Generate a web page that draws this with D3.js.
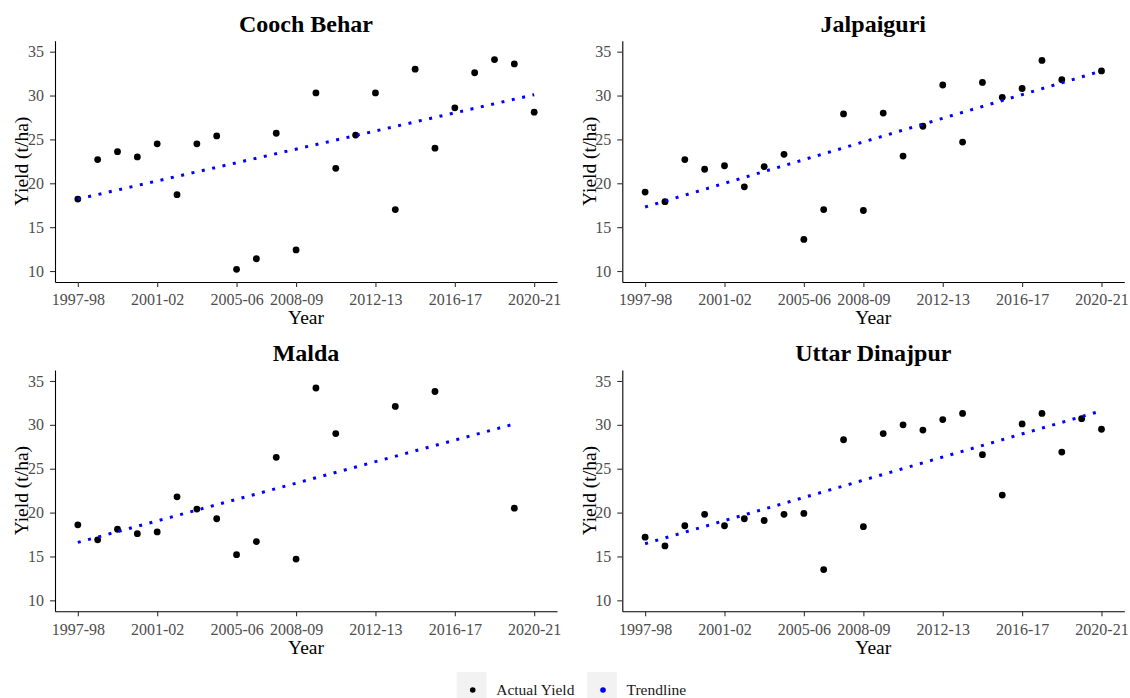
<!DOCTYPE html>
<html>
<head>
<meta charset="utf-8">
<script src="https://cdn.jsdelivr.net/npm/d3@7"></script>
<style>
  body { margin: 0; background: #fff; }
  svg { display: block; }
</style>
</head>
<body>
<svg width="1130" height="698"></svg>
<script>
// seasons on the x axis (index 0..23)
var seasons = ['1997-98','1998-99','1999-00','2000-01','2001-02','2002-03','2003-04','2004-05',
    '2005-06','2006-07','2007-08','2008-09','2009-10','2010-11','2011-12','2012-13',
    '2013-14','2014-15','2015-16','2016-17','2017-18','2018-19','2019-20','2020-21'];
var xTickLabels = ['1997-98','2001-02','2005-06','2008-09','2012-13','2016-17','2020-21'];
var yTicks = [10, 15, 20, 25, 30, 35];

var districts = ['Cooch Behar', 'Jalpaiguri', 'Malda', 'Uttar Dinajpur'];

// yield t/ha, null = no value that season
var coochBehar = [18.2, 22.7, 23.6, 23.0, 24.5, 18.7, 24.5, 25.4, 10.2, 11.4, 25.7, 12.4,
    30.3, 21.7, 25.5, 30.3, 17.0, 33.0, 24.0, 28.6, 32.6, 34.1, 33.6, 28.1];
var jalpaiguri = [19.0, 17.9, 22.7, 21.6, 22.0, 19.6, 21.9, 23.3, 13.6, 17.0, 27.9, 16.9,
    28.0, 23.1, 26.5, 31.2, 24.7, 31.5, 29.8, 30.8, 34.0, 31.8, null, 32.8];
var malda = [18.6, 16.9, 18.1, 17.6, 17.8, 21.8, 20.4, 19.3, 15.2, 16.7, 26.3, 14.7,
    34.2, 29.0, null, null, 32.1, null, 33.8, null, null, null, 20.5, null];
var uttarDinajpur = [17.2, 16.2, 18.5, 19.8, 18.5, 19.3, 19.1, 19.8, 19.9, 13.5, 28.3, 18.4,
    29.0, 30.0, 29.4, 30.6, 31.3, 26.6, 22.0, 30.1, 31.3, 26.9, 30.7, 29.5];

// trendline value at first and last season with data
var trendStart = [18.2, 17.3, 16.6, 16.45];
var trendEnd = [30.1, 32.8, 30.1, 31.6];

var allValues = [coochBehar, jalpaiguri, malda, uttarDinajpur];

var serif = '"Liberation Serif", "Times New Roman", serif';
var panelW = 502, panelH = 241.3;
var offsets = [[55, 40.7], [622.3, 40.7], [55, 370], [622.3, 370]];

var svg = d3.select('svg');

var scaleX = d3.scaleLinear().domain([-1.15, 24.15]).range([0, panelW]);
var scaleY = d3.scaleLinear().domain([8.75, 36.25]).range([panelH, 0]);

districts.forEach(function(name, i) {

    var g = svg.append('g')
        .attr('transform', 'translate(' + offsets[i][0] + ',' + offsets[i][1] + ')');

    var pts = [];
    allValues[i].forEach(function(v, k) {
        if (v !== null) pts.push({idx: k, val: v});
    });

    // axes
    var ax = g.append('g')
        .attr('transform', 'translate(0,' + panelH + ')')
        .call(d3.axisBottom(scaleX)
            .tickValues(xTickLabels.map(function(s){ return seasons.indexOf(s); }))
            .tickFormat(function(d){ return seasons[d]; })
            .tickSize(5).tickSizeOuter(0).tickPadding(7));

    var ay = g.append('g')
        .call(d3.axisLeft(scaleY)
            .tickValues(yTicks)
            .tickSize(5).tickSizeOuter(0).tickPadding(6));

    [ax, ay].forEach(function(a) {
        a.attr('font-family', serif).attr('font-size', 16);
        a.select('.domain').attr('stroke', '#000').attr('stroke-width', 1.1);
        a.selectAll('.tick line').attr('stroke', '#333').attr('stroke-width', 1.1);
        a.selectAll('.tick text').attr('fill', '#4d4d4d');
    });

    // points
    g.selectAll('circle')
        .data(pts)
        .enter()
        .append('circle')
        .attr('cx', function(d){ return scaleX(d.idx); })
        .attr('cy', function(d){ return scaleY(d.val); })
        .attr('r', 3.4)
        .attr('fill', '#000');

    // trendline (drawn over the points)
    var first = pts[0].idx, last = pts[pts.length - 1].idx;
    g.append('line')
        .attr('x1', scaleX(first))
        .attr('y1', scaleY(trendStart[i]))
        .attr('x2', scaleX(last))
        .attr('y2', scaleY(trendEnd[i]))
        .attr('stroke', '#0000ff')
        .attr('stroke-width', 3)
        .attr('stroke-dasharray', '3 7.6');

    // titles
    g.append('text')
        .attr('x', panelW / 2)
        .attr('y', -8.7)
        .attr('text-anchor', 'middle')
        .attr('font-family', serif)
        .attr('font-weight', 'bold')
        .attr('font-size', 24)
        .text(name);

    g.append('text')
        .attr('x', panelW / 2)
        .attr('y', 283.5)
        .attr('text-anchor', 'middle')
        .attr('font-family', serif)
        .attr('font-size', 19.5)
        .attr('fill', '#000')
        .text('Year');

    g.append('text')
        .attr('transform', 'translate(-26.8,' + (panelH / 2) + ') rotate(-90)')
        .attr('text-anchor', 'middle')
        .attr('font-family', serif)
        .attr('font-size', 19.5)
        .attr('fill', '#000')
        .text('Yield (t/ha)');
});

// legend
var legendItems = [
    {label: 'Actual Yield', color: '#000', x: 456.7},
    {label: 'Trendline', color: '#0000ff', x: 587}
];

var lg = svg.append('g');
legendItems.forEach(function(d) {
    lg.append('rect')
        .attr('x', d.x).attr('y', 672)
        .attr('width', 30).attr('height', 40)
        .attr('fill', '#f2f2f2');
    lg.append('circle')
        .attr('cx', d.x + 16).attr('cy', 690)
        .attr('r', 2.8)
        .attr('fill', d.color);
    lg.append('text')
        .attr('x', d.x + 39.5).attr('y', 695)
        .attr('font-family', serif)
        .attr('font-size', 15.5)
        .attr('fill', '#1a1a1a')
        .text(d.label);
});
</script>
</body>
</html>
